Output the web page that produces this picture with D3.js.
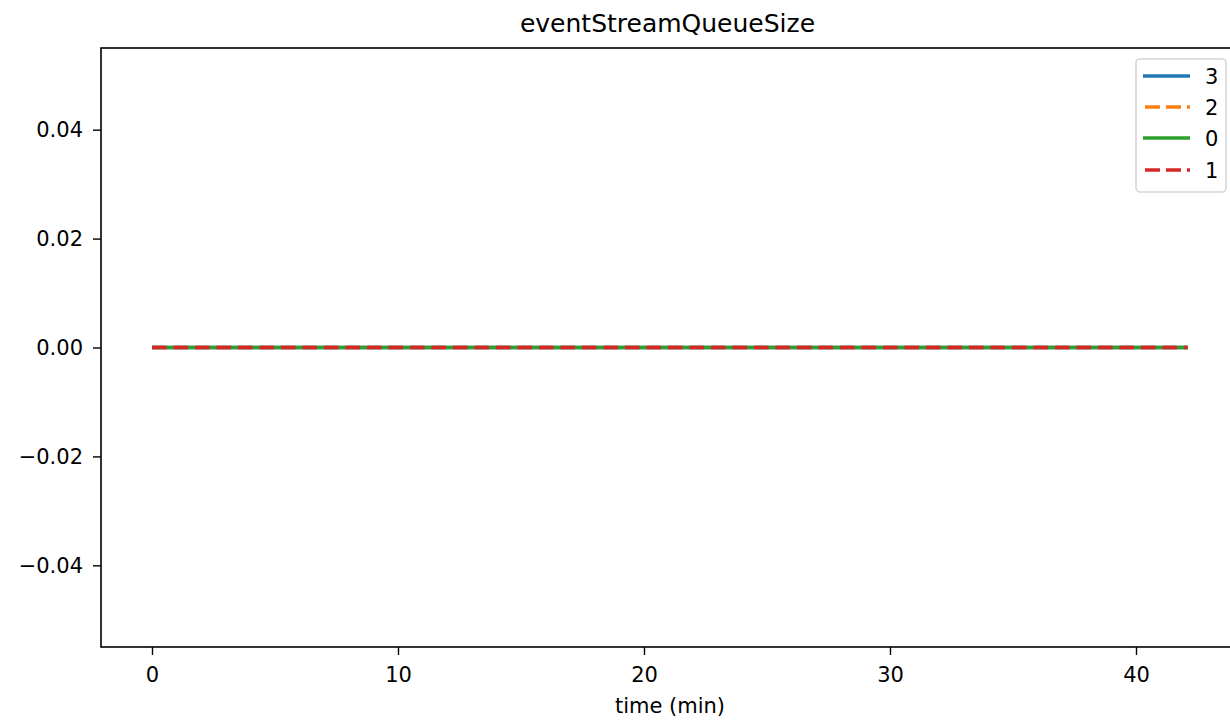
<!DOCTYPE html>
<html><head><meta charset="utf-8">
<script src="https://cdn.jsdelivr.net/npm/d3@7"></script>
<style>body{margin:0;background:#fff}svg{display:block}text{font-family:"DejaVu Sans",sans-serif;fill:#000}</style>
</head><body><svg id="c" width="1230" height="723"></svg>
<script>
const title = "eventStreamQueueSize";
const xLabel = "time (min)";
const seriesNames = ["3", "2", "0", "1"];
const seriesColors = ["#1f77b4", "#ff7f0e", "#2ca02c", "#d62728"];
const seriesDashed = [false, true, false, true];
const times = [0, 2, 4, 6, 8, 10, 12, 14, 16, 18, 20, 22, 24, 26, 28, 30, 32, 34, 36, 38, 40, 42.1];
const values3 = [0,0,0,0,0,0,0,0,0,0,0,0,0,0,0,0,0,0,0,0,0,0];
const values2 = [0,0,0,0,0,0,0,0,0,0,0,0,0,0,0,0,0,0,0,0,0,0];
const values0 = [0,0,0,0,0,0,0,0,0,0,0,0,0,0,0,0,0,0,0,0,0,0];
const values1 = [0,0,0,0,0,0,0,0,0,0,0,0,0,0,0,0,0,0,0,0,0,0];
const seriesValues = [values3, values2, values0, values1];
const xTicks = [0, 10, 20, 30, 40];
const yTicks = [-0.04, -0.02, 0, 0.02, 0.04];

const svg = d3.select("#c");
const L = 101, T = 48, B = 647;
const x = d3.scaleLinear().domain([0, 10]).range([152, 398]);
const xMax = 42.1 + 0.05 * 42.1;
const R = x(xMax);
const y = d3.scaleLinear().domain([-0.055, 0.055]).range([B, T]);
const fs = 21;

const fmtY = d => d3.format(".2f")(d).replace("-", "\u2212");

const gx = svg.append("g").attr("transform", `translate(0,${B})`)
  .call(d3.axisBottom(x).tickValues(xTicks).tickSize(8).tickPadding(11).tickFormat(d3.format("d")));
const gy = svg.append("g").attr("transform", `translate(${L},0)`)
  .call(d3.axisLeft(y).tickValues(yTicks).tickSize(8).tickPadding(10).tickFormat(fmtY));
[gx, gy].forEach(g => {
  g.select(".domain").remove();
  g.selectAll("line").attr("stroke", "#000").attr("stroke-width", 1.4);
  g.selectAll("text").attr("font-size", fs).attr("font-family", "DejaVu Sans").attr("fill", "#000");
});
gx.selectAll("text").attr("dy", null).attr("dominant-baseline", null).attr("y", 35);

const line = d3.line().x((d, i) => x(times[i])).y(d => y(d));
seriesValues.forEach((vals, k) => {
  svg.append("path").datum(vals).attr("d", line)
    .attr("fill", "none").attr("stroke", seriesColors[k]).attr("stroke-width", 3.5)
    .attr("stroke-dasharray", seriesDashed[k] ? "14.5,7" : null);
});

svg.append("rect").attr("x", L).attr("y", T).attr("width", R - L).attr("height", B - T)
  .attr("fill", "none").attr("stroke", "#000").attr("stroke-width", 1.6);

svg.append("text").attr("x", 667.5).attr("y", 32).attr("text-anchor", "middle")
  .attr("font-size", 25).text(title);
svg.append("text").attr("x", 670).attr("y", 713).attr("text-anchor", "middle")
  .attr("font-size", fs).text(xLabel);

const lg = svg.append("g");
lg.append("rect").attr("x", 1136).attr("y", 59).attr("width", 90).attr("height", 133)
  .attr("rx", 4).attr("fill", "#fff").attr("fill-opacity", 0.8).attr("stroke", "#d6d6d6").attr("stroke-width", 1.6);
const rows = [76, 107, 138, 170];
seriesNames.forEach((n, k) => {
  lg.append("line").attr("x1", 1143).attr("x2", 1190).attr("y1", rows[k]).attr("y2", rows[k])
    .attr("stroke", seriesColors[k]).attr("stroke-width", 3.5)
    .attr("stroke-dasharray", seriesDashed[k] ? "15,6" : null)
    .attr("stroke-dashoffset", seriesDashed[k] ? -2 : null);
  lg.append("text").attr("x", 1205).attr("y", rows[k]).attr("dy", "0.36em").attr("font-size", fs).text(n);
});
</script></body></html>
